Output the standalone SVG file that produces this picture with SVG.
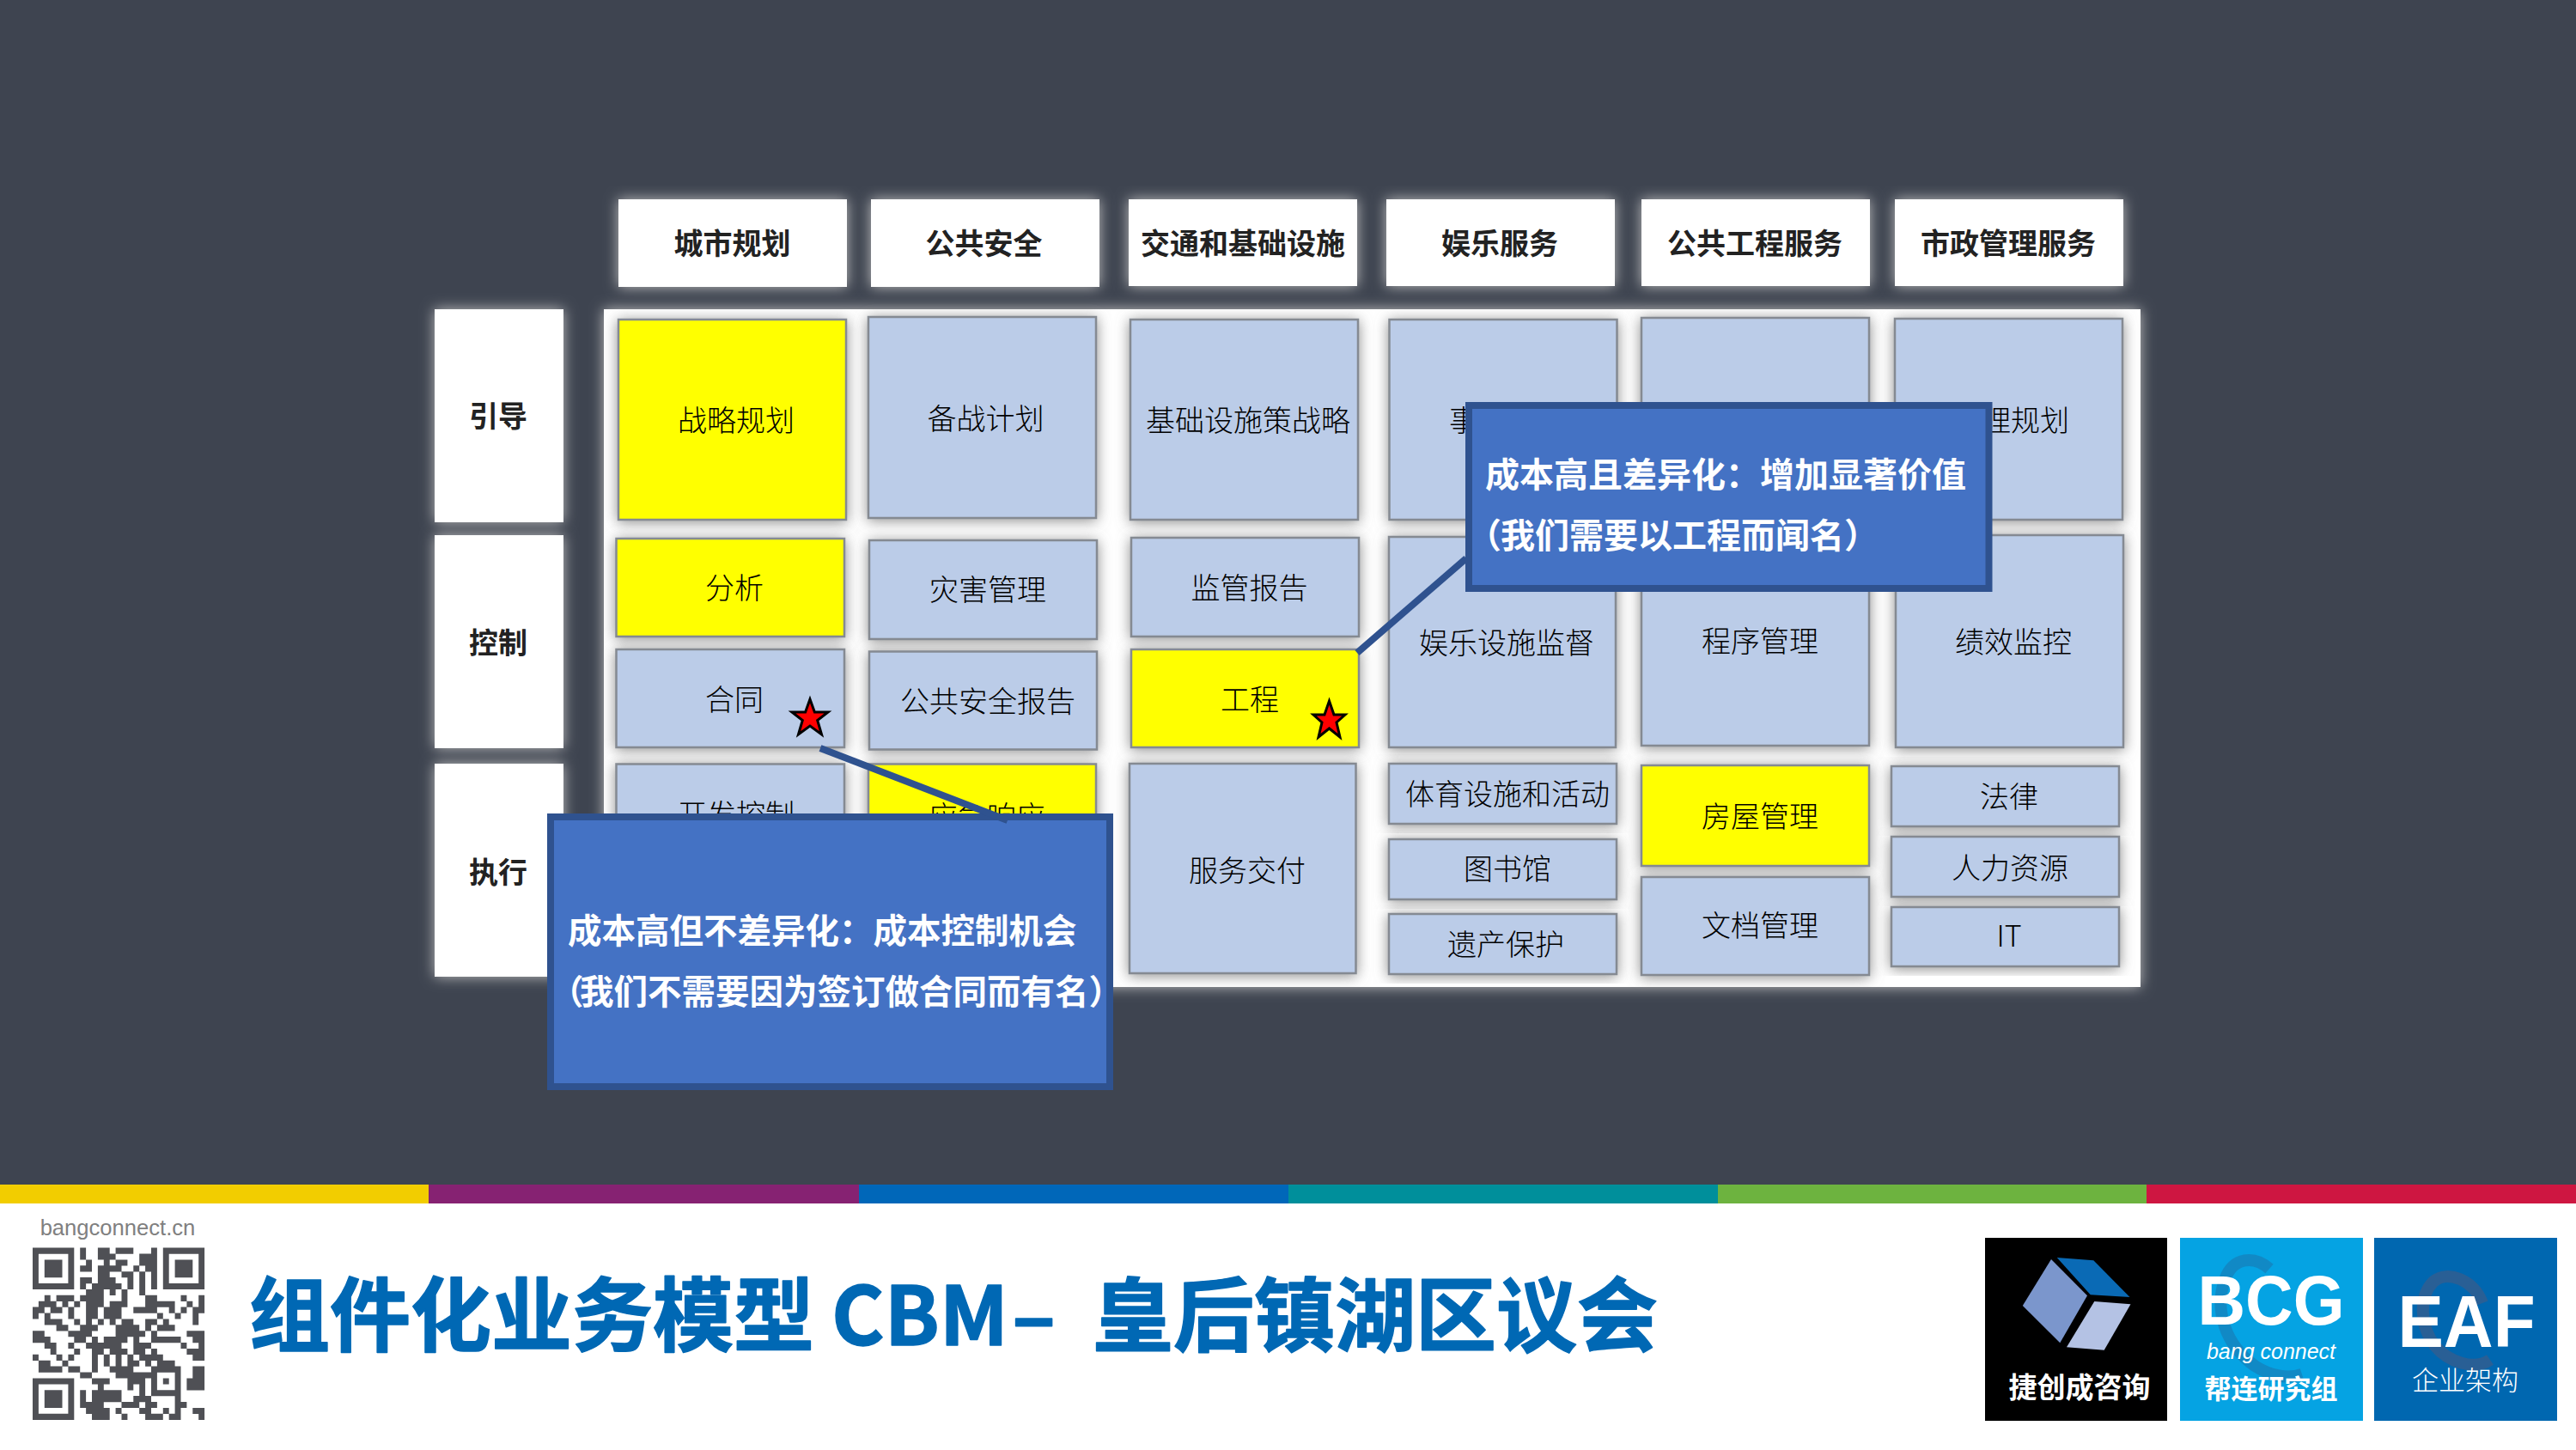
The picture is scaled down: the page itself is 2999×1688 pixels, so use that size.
<svg xmlns="http://www.w3.org/2000/svg" width="2999" height="1688" viewBox="0 0 2999 1688">
<style>
text{font-family:"Noto Sans CJK SC","Liberation Sans",sans-serif;text-anchor:middle;dominant-baseline:central}
.hd{fill:#fff;filter:url(#sh)}
.hdt{font-size:34px;font-weight:700;fill:#222}
.c{fill:#BBCCE8;stroke:#858a92;stroke-width:2.5;filter:url(#ss)}
.y{fill:#FFFF00;stroke:#858a92;stroke-width:2.5;filter:url(#ss)}
.t{font-size:34px;font-weight:300;fill:#000}
.ct{font-size:40px;font-weight:700;fill:#fff;text-anchor:start}
.call{fill:#4472C4;stroke:#2F528F;stroke-width:8}
.conn{stroke:#2F528F;stroke-width:8;fill:none}
.star{fill:#FF0000;stroke:#000;stroke-width:3}
.lg{font-family:"Liberation Sans",sans-serif;font-weight:700;fill:#fff;dominant-baseline:auto}
</style>
<defs>
<filter id="sh" x="-15%" y="-15%" width="130%" height="130%"><feDropShadow dx="0" dy="0" stdDeviation="8" flood-color="#c0c0c0" flood-opacity="1"/></filter>
<filter id="ss" x="-15%" y="-15%" width="130%" height="130%"><feDropShadow dx="0" dy="2" stdDeviation="8" flood-color="#707070" flood-opacity=".8"/></filter>
</defs>
<rect width="2999" height="1688" fill="#3E4450"/>
<g id="headers">
<g id="h1"><rect class="hd" x="720" y="232" width="266" height="102"/><text class="hdt" x="852.6" y="281">城市规划</text></g>
<g id="h2"><rect class="hd" x="1014" y="232" width="266" height="102"/><text class="hdt" x="1145.6" y="281">公共安全</text></g>
<g id="h3"><rect class="hd" x="1314" y="232" width="266" height="101"/><text class="hdt" x="1447" y="281">交通和基础设施</text></g>
<g id="h4"><rect class="hd" x="1614" y="232" width="266" height="101"/><text class="hdt" x="1746" y="281">娱乐服务</text></g>
<g id="h5"><rect class="hd" x="1911" y="232" width="266" height="101"/><text class="hdt" x="2043" y="281">公共工程服务</text></g>
<g id="h6"><rect class="hd" x="2206" y="232" width="266" height="101"/><text class="hdt" x="2338" y="281">市政管理服务</text></g>
</g>
<g id="rows">
<g id="r1"><rect class="hd" x="506" y="360" width="150" height="248"/><text class="hdt" x="580" y="482">引导</text></g>
<g id="r2"><rect class="hd" x="506" y="623" width="150" height="248"/><text class="hdt" x="580" y="746">控制</text></g>
<g id="r3"><rect class="hd" x="506" y="889" width="150" height="248"/><text class="hdt" x="580" y="1013">执行</text></g>
</g>
<rect id="panel" class="hd" x="703" y="360" width="1789" height="789"/>
<g id="cells">
<g id="n1"><rect class="y" x="720" y="372" width="265" height="233"/><text class="t" x="857" y="487">战略规划</text></g>
<g id="n2"><rect class="c" x="1011" y="369" width="265" height="234"/><text class="t" x="1147.5" y="485">备战计划</text></g>
<g id="n3"><rect class="c" x="1316" y="372" width="265" height="233"/><text class="t" x="1453" y="487">基础设施策战略</text></g>
<g id="n4"><rect class="c" x="1617.5" y="372" width="265" height="233"/><text class="t" x="1704" y="487">事</text></g>
<g id="n5"><rect class="c" x="1911" y="370" width="265" height="235"/></g>
<g id="n6"><rect class="c" x="2206" y="371" width="265" height="234"/><text class="t" x="2358" y="487">理规划</text></g>
<g id="n7"><rect class="y" x="717.5" y="627" width="265.5" height="114"/><text class="t" x="855" y="682">分析</text></g>
<g id="n8"><rect class="c" x="1012" y="629" width="265" height="115"/><text class="t" x="1150" y="684">灾害管理</text></g>
<g id="n9"><rect class="c" x="1317" y="626" width="265" height="115"/><text class="t" x="1454.5" y="682">监管报告</text></g>
<g id="n10"><rect class="c" x="1617" y="625" width="264" height="245"/><text class="t" x="1754" y="746">娱乐设施监督</text></g>
<g id="n11"><rect class="c" x="1911" y="623" width="265" height="245"/><text class="t" x="2049" y="744.5">程序管理</text></g>
<g id="n12"><rect class="c" x="2207" y="623" width="265" height="247"/><text class="t" x="2344" y="745">绩效监控</text></g>
<g id="n13"><rect class="c" x="717.5" y="756" width="265.5" height="114"/><text class="t" x="855" y="812.5">合同</text></g>
<g id="n14"><rect class="c" x="1012" y="758.5" width="265" height="114"/><text class="t" x="1150" y="814">公共安全报告</text></g>
<g id="n15"><rect class="y" x="1317" y="756" width="265" height="114"/><text class="t" x="1455" y="812">工程</text></g>
<g id="n16"><rect class="c" x="717.5" y="889.5" width="265.5" height="130"/><text class="t" x="857" y="946">开发控制</text></g>
<g id="n17"><rect class="y" x="1011" y="889.5" width="265" height="130"/><text class="t" x="1149" y="948">应急响应</text></g>
<g id="n18"><rect class="c" x="1315" y="889" width="263.5" height="244"/><text class="t" x="1452" y="1011">服务交付</text></g>
<g id="n19"><rect class="c" x="1617" y="889" width="265" height="70"/><text class="t" x="1755" y="922">体育设施和活动</text></g>
<g id="n20"><rect class="c" x="1617" y="977" width="265" height="70"/><text class="t" x="1755" y="1009">图书馆</text></g>
<g id="n21"><rect class="c" x="1617" y="1064" width="265" height="70"/><text class="t" x="1753" y="1097.5">遗产保护</text></g>
<g id="n22"><rect class="y" x="1911" y="891" width="265" height="117"/><text class="t" x="2049" y="948">房屋管理</text></g>
<g id="n23"><rect class="c" x="1911" y="1021" width="265" height="114"/><text class="t" x="2049" y="1075.5">文档管理</text></g>
<g id="n24"><rect class="c" x="2202" y="892" width="265" height="70"/><text class="t" x="2339" y="925">法律</text></g>
<g id="n25"><rect class="c" x="2202" y="974" width="265" height="70"/><text class="t" x="2340" y="1008">人力资源</text></g>
<g id="n26"><rect class="c" x="2202" y="1056" width="265" height="69"/><text class="t" x="2339" y="1087">IT</text></g>
</g>
<g id="stars">
<polygon class="star" points="943,814 948.4,829 964,829 951.7,838.5 956.5,855 943,845 929.5,855 934.3,838.5 922,829 937.6,829"/>
<polygon class="star" points="1547.5,816 1553,832 1566,832 1556,841 1560,858 1547.5,848 1535,858 1539,841 1529,832 1542,832"/>
</g>
<g id="callout1"><rect class="call" x="1710" y="472" width="605.5" height="213"/><text class="ct" x="1729" y="550">成本高且差异化&#xFF1A;增加显著价值</text><text class="ct" y="621"><tspan x="1708">&#xFF08;</tspan><tspan x="1747">我们需要以工程而闻名&#xFF09;</tspan></text></g>
<g id="callout2"><rect class="call" x="641" y="951" width="651" height="314"/><text class="ct" x="661" y="1080" style="font-size:39.5px">成本高但不差异化&#xFF1A;成本控制机会</text><text class="ct" y="1151" style="font-size:39.5px"><tspan x="640">&#xFF08;</tspan><tspan x="675">我们不需要因为签订做合同而有名&#xFF09;</tspan></text></g>
<g id="connectors">
<line class="conn" x1="1580" y1="760" x2="1707" y2="650"/>
<line class="conn" x1="955" y1="871" x2="1173" y2="955"/>
</g>
<g id="footer">
<rect y="1400" width="2999" height="288" fill="#fff"/>
<rect x="0" y="1379" width="500" height="22" fill="#F2CD00"/>
<rect x="499" y="1379" width="501" height="22" fill="#862272"/>
<rect x="1000" y="1379" width="500" height="22" fill="#0067B9"/>
<rect x="1500" y="1379" width="500" height="22" fill="#008F9B"/>
<rect x="2000" y="1379" width="500" height="22" fill="#6DB33F"/>
<rect x="2499" y="1379" width="500" height="22" fill="#CE1641"/>
<text x="137" y="1429" style="font-family:'Liberation Sans',sans-serif;font-size:25.6px;fill:#808080">bangconnect.cn</text>
<path id="qr" transform="translate(38,1452.7) scale(6.9)" fill="none" stroke="#4f5055" stroke-width="1.03" d="
M0 .5h7M8 .5h1M11 .5h2M14 .5h3M20 .5h1M22 .5h7
M0 1.5h1M6 1.5h1M8 1.5h1M11 1.5h3M18 1.5h3M22 1.5h1M28 1.5h1
M0 2.5h1M2 2.5h3M6 2.5h1M9 2.5h1M12 2.5h1M14 2.5h2M18 2.5h3M22 2.5h1M24 2.5h3M28 2.5h1
M0 3.5h1M2 3.5h3M6 3.5h1M8 3.5h2M11 3.5h4M17 3.5h1M19 3.5h2M22 3.5h1M24 3.5h3M28 3.5h1
M0 4.5h1M2 4.5h3M6 4.5h1M11 4.5h2M15 4.5h2M18 4.5h1M20 4.5h1M22 4.5h1M24 4.5h3M28 4.5h1
M0 5.5h1M6 5.5h1M8 5.5h2M11 5.5h3M16 5.5h1M18 5.5h1M20 5.5h1M22 5.5h1M28 5.5h1
M0 6.5h7M8 6.5h1M10 6.5h5M16 6.5h1M18 6.5h1M20 6.5h1M22 6.5h7
M9 7.5h3M13 7.5h1M15 7.5h1M18 7.5h1
M2 8.5h1M4 8.5h3M8 8.5h4M15 8.5h1M19 8.5h2M25 8.5h1M28 8.5h1
M1 9.5h3M5 9.5h1M7 9.5h1M9 9.5h3M13 9.5h3M19 9.5h5M26 9.5h1M28 9.5h1
M0 10.5h2M3 10.5h2M6 10.5h1M9 10.5h2M12 10.5h3M17 10.5h4M23 10.5h1M25 10.5h1M27 10.5h2
M0 11.5h1M2 11.5h1M6 11.5h1M9 11.5h2M12 11.5h3M21 11.5h1M24 11.5h1M27 11.5h1
M2 12.5h3M7 12.5h1M9 12.5h1M11 12.5h1M13 12.5h1M15 12.5h2M19 12.5h2M22 12.5h1M27 12.5h1
M4 13.5h2M8 13.5h3M14 13.5h4M19 13.5h1M21 13.5h3
M0 14.5h2M6 14.5h4M14 14.5h5M20 14.5h1M26 14.5h3
M0 15.5h3M7 15.5h2M10 15.5h1M12 15.5h4M17 15.5h1M20 15.5h5M27 15.5h2
M2 16.5h2M6 16.5h1M9 16.5h6M17 16.5h3M25 16.5h1M28 16.5h1
M3 17.5h1M7 17.5h1M10 17.5h2M13 17.5h3M17 17.5h2M20 17.5h1M26 17.5h3
M0 18.5h1M4 18.5h1M6 18.5h1M10 18.5h1M12 18.5h1M14 18.5h1M16 18.5h1M18 18.5h4M27 18.5h2
M1 19.5h2M5 19.5h1M10 19.5h1M12 19.5h1M14 19.5h1M16 19.5h2M19 19.5h1M21 19.5h3
M1 20.5h4M6 20.5h2M10 20.5h1M13 20.5h4M20 20.5h5M27 20.5h2
M8 21.5h2M14 21.5h6M20 21.5h1M24 21.5h1M27 21.5h2
M0 22.5h7M10 22.5h3M16 22.5h3M20 22.5h1M22 22.5h1M24 22.5h1M26 22.5h3
M0 23.5h1M6 23.5h1M11 23.5h1M16 23.5h1M18 23.5h1M20 23.5h1M24 23.5h1M26 23.5h3
M0 24.5h1M2 24.5h3M6 24.5h1M8 24.5h1M10 24.5h5M18 24.5h1M20 24.5h5
M0 25.5h1M2 25.5h3M6 25.5h1M8 25.5h1M10 25.5h5M17 25.5h3M24 25.5h1
M0 26.5h1M2 26.5h3M6 26.5h1M8 26.5h4M15 26.5h3M19 26.5h2M24 26.5h2
M0 27.5h1M6 27.5h1M9 27.5h4M14 27.5h1M18 27.5h2M22 27.5h1M24 27.5h1M27 27.5h2
M0 28.5h7M10 28.5h3M15 28.5h1M19 28.5h3M23 28.5h2M28 28.5h1"/>
<text id="title" y="1525" style="font-size:94px;font-weight:700;fill:#0068B4;text-anchor:start;stroke:#0068B4;stroke-width:1.5;stroke-linejoin:round"><tspan x="290">组件化业务模型</tspan><tspan x="968">CBM</tspan><tspan x="1178">–</tspan><tspan x="1272">皇后镇湖区议会</tspan></text>
</g>
<g id="logos">
<g id="logo1"><rect x="2311" y="1441" width="212" height="213" fill="#000"/>
<polygon points="2388,1466 2430,1508.3 2398.3,1563.3 2354.8,1520" fill="#7B96CC"/>
<polygon points="2394.7,1464 2437.3,1467.3 2479.5,1510 2433.7,1507.3" fill="#0A6AB5"/>
<polygon points="2438.3,1515 2480.5,1518.3 2449.7,1571.7 2406,1568.3" fill="#B4C2E4"/>
<text x="2421" y="1613" style="font-size:33px;font-weight:700;fill:#fff">捷创成咨询</text></g>
<g id="logo2"><rect x="2538" y="1441" width="213" height="213" fill="#05A3E3"/>
<path d="M2642 1477C2625 1462 2600 1462 2590 1490C2578 1525 2590 1565 2625 1590C2645 1603 2665 1605 2680 1600" fill="none" stroke="#1d6fa8" stroke-opacity=".5" stroke-width="14"/>
<text class="lg" x="2644" y="1541.7" style="font-size:82px" textLength="171" lengthAdjust="spacingAndGlyphs">BCG</text>
<text x="2644" y="1582" style="font-family:'Liberation Sans',sans-serif;font-style:italic;font-size:25px;fill:#fff;dominant-baseline:auto">bang connect</text>
<text x="2644" y="1614" style="font-size:31px;font-weight:700;fill:#fff">帮连研究组</text></g>
<g id="logo3"><rect x="2764" y="1441" width="213" height="213" fill="#0067B0"/>
<path d="M2890 1517C2880 1490 2850 1478 2833 1492C2815 1510 2818 1545 2835 1567C2850 1585 2880 1596 2899 1583" fill="none" stroke="#4a5a80" stroke-opacity=".55" stroke-width="14"/>
<text class="lg" x="2871.5" y="1567.7" style="font-size:85px" textLength="160" lengthAdjust="spacingAndGlyphs">EAF</text>
<text x="2870" y="1604" style="font-size:31px;font-weight:300;fill:#fff">企业架构</text></g>
</g>
</svg>
